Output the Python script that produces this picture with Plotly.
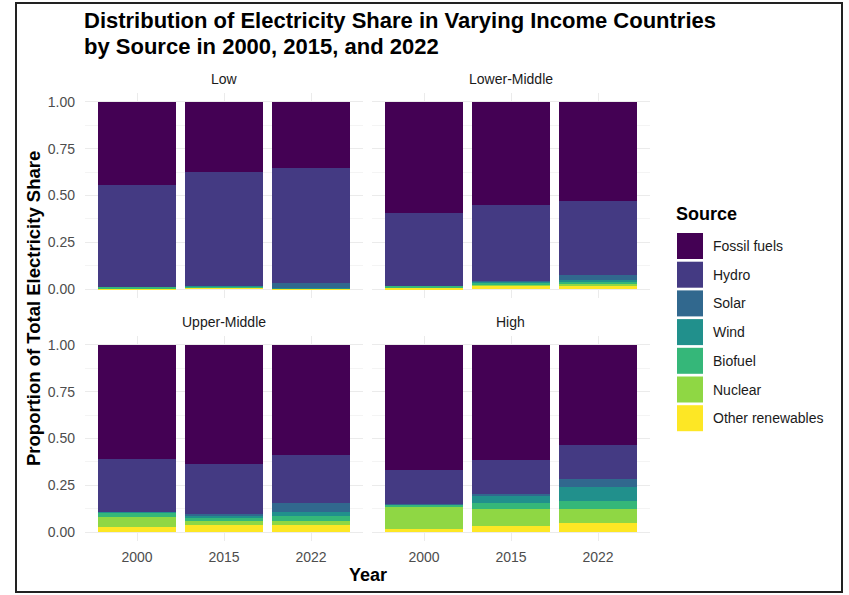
import plotly.graph_objects as go

# ---------------- data ----------------
incomes = ["Low", "Lower-Middle", "Upper-Middle", "High"]
years = ["2000", "2015", "2022"]
sources = ["Fossil fuels", "Hydro", "Solar", "Wind", "Biofuel", "Nuclear", "Other renewables"]
colors = ["#440154", "#443A83", "#31688E", "#21908C", "#35B779", "#8FD744", "#FDE725"]

# each list: Low(2000,2015,2022), Lower-Middle(...), Upper-Middle(...), High(...)
fossil_fuels = [0.440, 0.370, 0.350, 0.590, 0.550, 0.525, 0.610, 0.636, 0.587, 0.668, 0.611, 0.531]
hydro = [0.547, 0.609, 0.614, 0.394, 0.405, 0.398, 0.280, 0.266, 0.258, 0.180, 0.181, 0.185]
solar = [0.000, 0.001, 0.028, 0.000, 0.002, 0.027, 0.000, 0.005, 0.046, 0.001, 0.008, 0.041]
wind = [0.000, 0.002, 0.002, 0.000, 0.005, 0.011, 0.002, 0.018, 0.021, 0.003, 0.043, 0.076]
biofuel = [0.006, 0.005, 0.003, 0.004, 0.009, 0.008, 0.023, 0.015, 0.027, 0.014, 0.032, 0.039]
nuclear = [0.002, 0.000, 0.000, 0.002, 0.009, 0.009, 0.057, 0.020, 0.023, 0.116, 0.088, 0.080]
other_renewables = [0.005, 0.013, 0.003, 0.010, 0.020, 0.022, 0.028, 0.040, 0.038, 0.018, 0.037, 0.048]

y_tick_vals = [0, 0.25, 0.5, 0.75, 1.0]
y_tick_text = ["0.00", "0.25", "0.50", "0.75", "1.00"]

title_lines = ["Distribution of Electricity Share in Varying Income Countries",
               "by Source in 2000, 2015, and 2022"]

series = [fossil_fuels, hydro, solar, wind, biofuel, nuclear, other_renewables]

# ---------------- layout helpers ----------------
W, H = 849, 595
FONT = "Liberation Sans, Arial, sans-serif"


def px(x):
    return x / W


def py(y):
    return 1 - y / H


# panel pixel bounds (left, right, top, bottom)
panels = [
    (84.8, 363.2, 92.6, 298.4),    # Low
    (371.8, 650.2, 92.6, 298.4),   # Lower-Middle
    (84.8, 363.2, 335.6, 541.4),   # Upper-Middle
    (371.8, 650.2, 335.6, 541.4),  # High
]

fig = go.Figure()

for p, inc in enumerate(incomes):
    ax = "" if p == 0 else str(p + 1)
    # ggplot stacks first level on top -> add bottom-most (last) first
    for s in reversed(range(len(sources))):
        vals = series[s][p * 3:(p + 1) * 3]
        fig.add_trace(go.Bar(
            x=years, y=vals, name=sources[s],
            marker=dict(color=colors[s], line=dict(width=0)),
            width=0.9, showlegend=False,
            xaxis="x" + ax, yaxis="y" + ax,
        ))

layout = dict(
    width=W, height=H,
    margin=dict(l=0, r=0, t=0, b=0),
    paper_bgcolor="white", plot_bgcolor="white",
    barmode="stack", bargap=0,
    font=dict(family=FONT, color="#1A1A1A"),
    showlegend=False,
)

for p, inc in enumerate(incomes):
    l, r, t, b = panels[p]
    ax = "" if p == 0 else str(p + 1)
    bottom_row = p >= 2
    left_col = p % 2 == 0
    layout["xaxis" + ax] = dict(
        domain=[px(l), px(r)], anchor="y" + ax,
        type="category", categoryorder="array", categoryarray=years,
        range=[-0.6, 2.6], showgrid=True, gridcolor="#EBEBEB", gridwidth=1,
        zeroline=False, showline=False,
        ticks="outside" if bottom_row else "", ticklen=3, tickcolor="rgba(0,0,0,0)",
        showticklabels=bottom_row,
        tickfont=dict(family=FONT, size=14, color="#4D4D4D"),
        fixedrange=True,
    )
    layout["yaxis" + ax] = dict(
        domain=[py(b), py(t)], anchor="x" + ax,
        range=[-0.05, 1.05], tickvals=y_tick_vals, ticktext=y_tick_text,
        showgrid=True, gridcolor="#EBEBEB", gridwidth=1,
        minor=dict(tickvals=[0.125, 0.375, 0.625, 0.875], showgrid=True,
                   gridcolor="#F4F4F4", gridwidth=1, ticks=""),
        zeroline=False, showline=False,
        ticks="outside" if left_col else "", ticklen=6, tickcolor="rgba(0,0,0,0)",
        showticklabels=left_col,
        tickfont=dict(family=FONT, size=14, color="#4D4D4D"),
        fixedrange=True,
    )

annotations = []
shapes = []

# strip labels
for p, inc in enumerate(incomes):
    l, r, t, b = panels[p]
    annotations.append(dict(
        x=px((l + r) / 2), y=py(t - 13.5), xref="paper", yref="paper",
        text=inc, showarrow=False, xanchor="center", yanchor="middle",
        font=dict(family=FONT, size=14, color="#1A1A1A"),
    ))

# title (two lines)
for i, line in enumerate(title_lines):
    annotations.append(dict(
        x=px(82), y=py(20.5 + 26 * i), xref="paper", yref="paper",
        text="<b>" + line + "</b>",
        showarrow=False, xanchor="left", yanchor="middle", align="left",
        font=dict(family=FONT, size=22, color="black"),
    ))

# axis titles
annotations.append(dict(
    x=px(367.5), y=py(575), xref="paper", yref="paper", text="<b>Year</b>",
    showarrow=False, xanchor="center", yanchor="middle",
    font=dict(family=FONT, size=18, color="black"),
))
annotations.append(dict(
    x=px(33), y=py(309), xref="paper", yref="paper",
    text="<b>Proportion of Total Electricity Share</b>", textangle=-90,
    showarrow=False, xanchor="center", yanchor="middle",
    font=dict(family=FONT, size=18.5, color="black"),
))

# legend (drawn manually to match ggplot keys)
annotations.append(dict(
    x=px(674), y=py(214), xref="paper", yref="paper", text="<b>Source</b>",
    showarrow=False, xanchor="left", yanchor="middle",
    font=dict(family=FONT, size=18, color="black"),
))
for i, (src, col) in enumerate(zip(sources, colors)):
    top = 233 + i * 28.7
    shapes.append(dict(
        type="rect", xref="paper", yref="paper",
        x0=px(677), x1=px(703), y0=py(top + 26), y1=py(top),
        fillcolor=col, line=dict(width=0),
    ))
    annotations.append(dict(
        x=px(711), y=py(top + 13), xref="paper", yref="paper", text=src,
        showarrow=False, xanchor="left", yanchor="middle",
        font=dict(family=FONT, size=14, color="#1A1A1A"),
    ))

# outer frame
shapes.append(dict(
    type="rect", xref="paper", yref="paper",
    x0=px(16), x1=px(842), y0=py(592), y1=py(3),
    line=dict(color="#222222", width=2), fillcolor="rgba(0,0,0,0)",
))

layout["annotations"] = annotations
layout["shapes"] = shapes
fig.update_layout(**layout)

fig.write_html("out.html")
